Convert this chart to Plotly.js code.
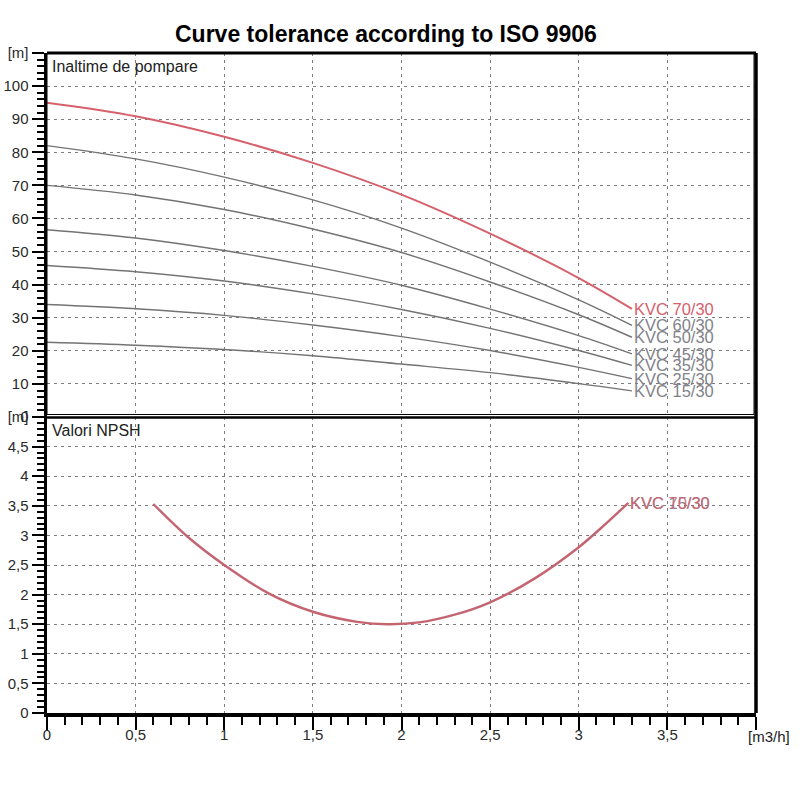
<!DOCTYPE html>
<html>
<head>
<meta charset="utf-8">
<script src="https://cdn.plot.ly/plotly-3.0.1.min.js"></script>
<style>html,body{margin:0;padding:0;background:#fff;}#chart{width:800px;height:800px;}</style>
</head>
<body>
<div id="chart"></div>
<script>
// Flow values (m3/h) for pump head curves
const flowQ = [0, 0.5, 1, 1.5, 2, 2.5, 3, 3.3];
const head70 = [95, 90.9, 84.7, 76.8, 67.2, 55.4, 42.0, 32.7];
const head60 = [82, 78, 72.5, 65.6, 57.1, 46.8, 35.4, 27.7];
const head50 = [70, 67.1, 62.7, 56.8, 49.7, 40.8, 30.9, 24.1];
const head45 = [56.6, 54.1, 50.3, 45.5, 39.8, 32.6, 24.6, 19.1];
const head35 = [45.8, 43.9, 41.1, 37.2, 32.5, 26.8, 20.1, 15.6];
const head25 = [34, 32.7, 30.7, 27.8, 24.3, 20.1, 15.0, 11.6];
const head15 = [22.6, 21.7, 20.4, 18.5, 16.0, 13.4, 10.1, 7.9];
const grayNames = ["KVC 60/30", "KVC 50/30", "KVC 45/30", "KVC 35/30", "KVC 25/30", "KVC 15/30"];
const grayHeads = [head60, head50, head45, head35, head25, head15];
const redName = "KVC 70/30";

// NPSH curve
const npshQ = [0.6, 0.8, 1.0, 1.25, 1.5, 1.75, 1.92, 2.1, 2.3, 2.5, 2.75, 3.0, 3.15, 3.28];
const npshV = [3.53, 2.96, 2.5, 2.02, 1.71, 1.54, 1.5, 1.53, 1.66, 1.87, 2.27, 2.8, 3.19, 3.55];

// Tick labels
const xTickVals = [0, 0.5, 1, 1.5, 2, 2.5, 3, 3.5, 4];
const xTickText = ["0", "0,5", "1", "1,5", "2", "2,5", "3", "3,5", ""];
const headTickVals = [0, 10, 20, 30, 40, 50, 60, 70, 80, 90, 100, 110];
const headTickText = ["0", "10", "20", "30", "40", "50", "60", "70", "80", "90", "100", "[m]"];
const npshTickVals = [0, 0.5, 1, 1.5, 2, 2.5, 3, 3.5, 4, 4.5, 5];
const npshTickText = ["0", "0,5", "1", "1,5", "2", "2,5", "3", "3,5", "4", "4,5", "[m]"];

const RED = "rgb(214,96,108)";
const NPSHRED = "rgb(196,100,112)";
const GRAY = "rgb(115,115,115)";
const LABELGRAY = "rgb(130,130,138)";
const FONT = "Liberation Sans, Arial, sans-serif";
const GRID = "rgb(125,125,125)";

const traces = [];
grayHeads.forEach((h, i) => {
  traces.push({x: flowQ, y: h, xaxis: "x", yaxis: "y2", mode: "lines",
    line: {color: GRAY, width: 1.4, shape: "spline"}, name: grayNames[i], hoverinfo: "skip"});
});
traces.push({x: flowQ, y: head70, xaxis: "x", yaxis: "y2", mode: "lines",
  line: {color: RED, width: 2, shape: "spline"}, name: redName});
traces.push({x: npshQ, y: npshV, xaxis: "x", yaxis: "y", mode: "lines",
  line: {color: NPSHRED, width: 2.4, shape: "spline"}, name: redName});

const LBL = 16.5;
const annotations = [];
grayNames.forEach((n, i) => {
  const h = grayHeads[i];
  annotations.push({x: flowQ[flowQ.length - 1], y: h[h.length - 1], xref: "x", yref: "y2",
    text: n, showarrow: false, xanchor: "left", yanchor: "middle", xshift: 0,
    font: {family: FONT, size: LBL, color: LABELGRAY}});
});
annotations.push({x: flowQ[flowQ.length - 1], y: head70[head70.length - 1], xref: "x", yref: "y2",
  text: redName, showarrow: false, xanchor: "left", yanchor: "middle", xshift: 0,
  font: {family: FONT, size: LBL, color: RED}});
annotations.push({x: npshQ[npshQ.length - 1], y: npshV[npshV.length - 1], xref: "x", yref: "y",
  text: "KVC 15/30", showarrow: false, xanchor: "left", yanchor: "middle", xshift: 0,
  font: {family: FONT, size: LBL, color: "rgb(150,125,140)"}});
annotations.push({x: npshQ[npshQ.length - 1], y: npshV[npshV.length - 1], xref: "x", yref: "y",
  text: redName, showarrow: false, xanchor: "left", yanchor: "middle", xshift: 0,
  font: {family: FONT, size: LBL, color: "rgba(205,100,112,0.85)"}});
annotations.push({x: 0, y: 1, xref: "paper", yref: "paper", yanchor: "top", xanchor: "left",
  text: "Inaltime de pompare", showarrow: false, yshift: -3, xshift: 3,
  font: {family: FONT, size: 16, color: "#222"}});
annotations.push({x: 0, y: 0.4485, xref: "paper", yref: "paper", yanchor: "top", xanchor: "left",
  text: "Valori NPSH", showarrow: false, yshift: -3, xshift: 3,
  font: {family: FONT, size: 16, color: "#222"}});
annotations.push({x: 4, y: 0, xref: "x", yref: "paper", yanchor: "top", xanchor: "center",
  text: "[m3/h]", showarrow: false, xshift: 13, yshift: -13,
  font: {family: FONT, size: 15, color: "#222"}});

const W = 709, H = 660; // plot area
const px = v => (v - 47) / W;
const py = v => (713 - v) / H;
const shapes = [
  {type: "rect", xref: "paper", yref: "paper", x0: 0, x1: px(754), y0: py(414.5), y1: 1,
   line: {color: "#000", width: 1}},
  {type: "line", xref: "paper", yref: "paper", x0: 0, x1: 1, y0: 1, y1: 1, line: {color: "#000", width: 3}},
  {type: "line", xref: "paper", yref: "paper", x0: 1, x1: 1, y0: 0, y1: 1, line: {color: "#000", width: 3.5}},
  {type: "line", xref: "paper", yref: "paper", x0: 0, x1: 1, y0: py(417.5), y1: py(417.5), line: {color: "#000", width: 2.5}}
];

const tickFont = {family: FONT, size: 15, color: "#2a2a2a"};
const gridCommon = {showgrid: true, gridcolor: GRID, griddash: "3px,4px", gridwidth: 1};
const layout = {
  width: 800, height: 800,
  margin: {l: 47, r: 44, t: 53, b: 87},
  paper_bgcolor: "#fff", plot_bgcolor: "#fff",
  showlegend: false,
  title: {text: "<b>Curve tolerance according to ISO 9906</b>", x: 0.478, xref: "paper", xanchor: "center",
    y: 0.958, yanchor: "middle", yref: "container", font: {family: FONT, size: 23, color: "#000"}},
  xaxis: Object.assign({range: [0, 4], anchor: "y", tickmode: "array", tickvals: xTickVals, ticktext: xTickText,
    ticks: "outside", ticklen: 13, tickwidth: 2, tickcolor: "#000", ticklabelstandoff: -8,
    minor: {dtick: 0.1, tick0: 0, ticks: "outside", ticklen: 8, tickwidth: 2, tickcolor: "#000", showgrid: false},
    showline: true, linewidth: 3.5, linecolor: "#000",
    zeroline: false, tickfont: tickFont}, gridCommon),
  yaxis: Object.assign({domain: [0, 0.4485], range: [0, 5], anchor: "x", tickmode: "array", tickvals: npshTickVals, ticktext: npshTickText,
    ticks: "outside", ticklen: 12, tickwidth: 2, tickcolor: "#000",
    minor: {dtick: 0.1, tick0: 0, ticks: "outside", ticklen: 7, tickwidth: 2, tickcolor: "#000", showgrid: false},
    showline: true, linewidth: 3.5, linecolor: "#000",
    zeroline: false, tickfont: tickFont}, gridCommon),
  yaxis2: Object.assign({domain: [0.4485, 1], range: [0, 110], anchor: "x", tickmode: "array", tickvals: headTickVals, ticktext: headTickText,
    ticks: "outside", ticklen: 12, tickwidth: 2, tickcolor: "#000",
    minor: {dtick: 2, tick0: 0, ticks: "outside", ticklen: 7, tickwidth: 2, tickcolor: "#000", showgrid: false},
    showline: true, linewidth: 3.5, linecolor: "#000",
    zeroline: false, tickfont: tickFont}, gridCommon),
  annotations: annotations,
  shapes: shapes
};

Plotly.newPlot("chart", traces, layout, {staticPlot: true, displayModeBar: false});
</script>
</body>
</html>
